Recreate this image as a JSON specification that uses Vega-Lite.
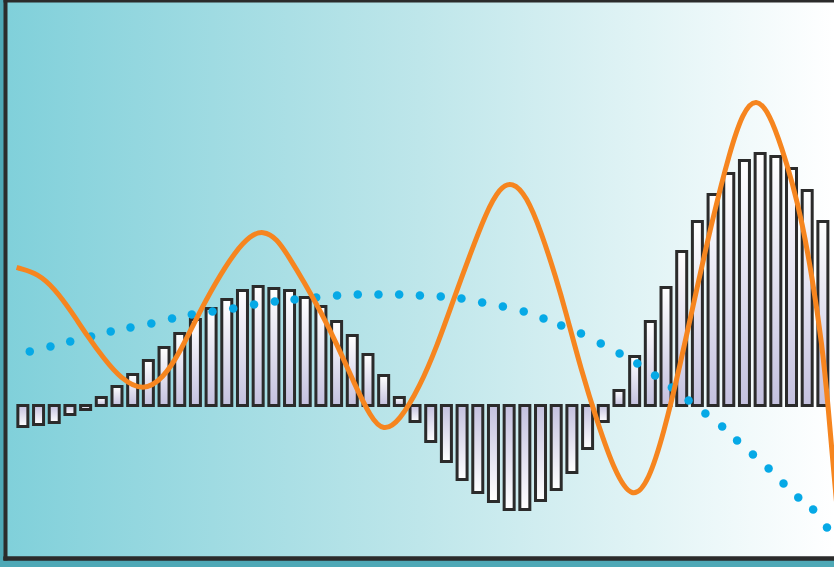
{
  "$schema": "https://vega.github.io/schema/vega-lite/v6.json",
  "width": 829,
  "height": 558,
  "autosize": {"type": "none"},
  "padding": {"left": 5, "top": 0, "right": 0, "bottom": 9},
  "background": "#4ea8b6",
  "config": {
    "view": {
      "stroke": null,
      "fill": {
        "gradient": "linear",
        "x1": 0, "y1": 0, "x2": 1, "y2": 0,
        "stops": [
          {"offset": 0, "color": "#80d0da"},
          {"offset": 0.5, "color": "#bee6ea"},
          {"offset": 1, "color": "#ffffff"}
        ]
      }
    },
    "axis": {
      "domain": true,
      "domainColor": "#2b2b2b",
      "domainWidth": 4,
      "domainCap": "square",
      "ticks": false,
      "labels": false,
      "grid": false
    }
  },
  "datasets": {
    "bars": [
      {"t": 1, "v": -21}, {"t": 2, "v": -19}, {"t": 3, "v": -17}, {"t": 4, "v": -9},
      {"t": 5, "v": -4}, {"t": 6, "v": 8}, {"t": 7, "v": 19}, {"t": 8, "v": 31},
      {"t": 9, "v": 45}, {"t": 10, "v": 58}, {"t": 11, "v": 72}, {"t": 12, "v": 86},
      {"t": 13, "v": 97}, {"t": 14, "v": 106}, {"t": 15, "v": 115}, {"t": 16, "v": 119},
      {"t": 17, "v": 117}, {"t": 18, "v": 115}, {"t": 19, "v": 108}, {"t": 20, "v": 99},
      {"t": 21, "v": 84}, {"t": 22, "v": 70}, {"t": 23, "v": 51}, {"t": 24, "v": 30},
      {"t": 25, "v": 8}, {"t": 26, "v": -16}, {"t": 27, "v": -36}, {"t": 28, "v": -56},
      {"t": 29, "v": -74}, {"t": 30, "v": -87}, {"t": 31, "v": -96}, {"t": 32, "v": -104},
      {"t": 33, "v": -104}, {"t": 34, "v": -95}, {"t": 35, "v": -84}, {"t": 36, "v": -67},
      {"t": 37, "v": -43}, {"t": 38, "v": -16}, {"t": 39, "v": 15}, {"t": 40, "v": 49},
      {"t": 41, "v": 84}, {"t": 42, "v": 118}, {"t": 43, "v": 154}, {"t": 44, "v": 184},
      {"t": 45, "v": 211}, {"t": 46, "v": 232}, {"t": 47, "v": 245}, {"t": 48, "v": 252},
      {"t": 49, "v": 249}, {"t": 50, "v": 237}, {"t": 51, "v": 215}, {"t": 52, "v": 184}
    ],
    "wave": [
      {"t": 0.6, "v": 138}, {"t": 0.81, "v": 137}, {"t": 1.94, "v": 132}, {"t": 3.02, "v": 117}, {"t": 4.09, "v": 94},
      {"t": 5.09, "v": 70}, {"t": 6.16, "v": 47}, {"t": 7.23, "v": 27}, {"t": 8.68, "v": 14},
      {"t": 9.94, "v": 27}, {"t": 11.01, "v": 53}, {"t": 12.02, "v": 86}, {"t": 13.28, "v": 123},
      {"t": 14.54, "v": 154}, {"t": 15.5, "v": 170}, {"t": 16.3, "v": 175}, {"t": 17.2, "v": 167},
      {"t": 17.94, "v": 149}, {"t": 18.95, "v": 123}, {"t": 20.02, "v": 93}, {"t": 21.09, "v": 59}, {"t": 22.1, "v": 23},
      {"t": 23.17, "v": -12}, {"t": 23.98, "v": -26}, {"t": 25.0, "v": -16}, {"t": 26.31, "v": 19},
      {"t": 27.39, "v": 59}, {"t": 28.39, "v": 103}, {"t": 29.46, "v": 149}, {"t": 30.53, "v": 193},
      {"t": 31.4, "v": 218}, {"t": 32.2, "v": 224}, {"t": 33.1, "v": 210}, {"t": 34.06, "v": 173},
      {"t": 35.0, "v": 127}, {"t": 35.57, "v": 96}, {"t": 36.58, "v": 36}, {"t": 37.65, "v": -18},
      {"t": 38.72, "v": -66}, {"t": 39.85, "v": -95}, {"t": 40.9, "v": -76}, {"t": 41.87, "v": -27},
      {"t": 42.88, "v": 39}, {"t": 43.95, "v": 116}, {"t": 45.02, "v": 190}, {"t": 46.03, "v": 252},
      {"t": 46.9, "v": 294}, {"t": 47.75, "v": 308}, {"t": 48.6, "v": 292}, {"t": 49.42, "v": 256},
      {"t": 50.05, "v": 223}, {"t": 50.68, "v": 183}, {"t": 51.31, "v": 129}, {"t": 51.94, "v": 62},
      {"t": 52.32, "v": 3}, {"t": 52.89, "v": -104}, {"t": 53.3, "v": -160}
    ],
    "dots": [
      {"t": 1.44, "v": 54}, {"t": 2.76, "v": 59}, {"t": 4.02, "v": 64}, {"t": 5.35, "v": 69},
      {"t": 6.6, "v": 74}, {"t": 7.86, "v": 78}, {"t": 9.19, "v": 82}, {"t": 10.51, "v": 87},
      {"t": 11.77, "v": 91}, {"t": 13.09, "v": 94}, {"t": 14.41, "v": 97}, {"t": 15.74, "v": 101},
      {"t": 17.06, "v": 104}, {"t": 18.32, "v": 106}, {"t": 19.7, "v": 108}, {"t": 21.03, "v": 110},
      {"t": 22.35, "v": 111}, {"t": 23.67, "v": 111}, {"t": 24.99, "v": 111}, {"t": 26.31, "v": 110},
      {"t": 27.64, "v": 109}, {"t": 28.96, "v": 107}, {"t": 30.28, "v": 103}, {"t": 31.6, "v": 99},
      {"t": 32.93, "v": 94}, {"t": 34.19, "v": 87}, {"t": 35.32, "v": 80}, {"t": 36.58, "v": 72},
      {"t": 37.84, "v": 62}, {"t": 39.04, "v": 52}, {"t": 40.17, "v": 42}, {"t": 41.3, "v": 30},
      {"t": 42.37, "v": 18}, {"t": 43.44, "v": 5}, {"t": 44.51, "v": -8}, {"t": 45.58, "v": -21},
      {"t": 46.53, "v": -35}, {"t": 47.54, "v": -49}, {"t": 48.54, "v": -63}, {"t": 49.49, "v": -78},
      {"t": 50.43, "v": -92}, {"t": 51.38, "v": -104}, {"t": 52.26, "v": -122}
    ]
  },
  "layer": [
    {
      "data": {"name": "bars"},
      "mark": {"type": "bar", "size": 10, "stroke": "#2b2b2b", "strokeWidth": 3},
      "encoding": {
        "x": {"field": "t", "type": "quantitative", "title": null, "scale": {"domain": [0.18, 52.39], "nice": false, "zero": false}, "axis": {"orient": "bottom"}},
        "y": {"field": "v", "type": "quantitative", "title": null, "scale": {"domain": [-152.5, 405.5], "nice": false}, "axis": {"orient": "left"}},
        "fill": {
          "condition": {
            "test": "datum.v < 0",
            "value": {"gradient": "linear", "x1": 0, "y1": 0, "x2": 0, "y2": 1,
              "stops": [{"offset": 0, "color": "#c4c1df"}, {"offset": 1, "color": "#ffffff"}]}
          },
          "value": {"gradient": "linear", "x1": 0, "y1": 0, "x2": 0, "y2": 1,
            "stops": [{"offset": 0, "color": "#ffffff"}, {"offset": 1, "color": "#c4c1df"}]}
        }
      }
    },
    {
      "data": {"name": "dots"},
      "mark": {"type": "circle", "size": 72, "color": "#06a9e6", "opacity": 1},
      "encoding": {
        "x": {"field": "t", "type": "quantitative", "title": null, "axis": {"orient": "bottom"}},
        "y": {"field": "v", "type": "quantitative", "title": null, "axis": {"orient": "left"}}
      }
    },
    {
      "data": {"name": "wave"},
      "mark": {"type": "line", "interpolate": "basis", "color": "#f6851f", "strokeWidth": 5, "clip": true},
      "encoding": {
        "x": {"field": "t", "type": "quantitative", "title": null, "axis": {"orient": "top"}},
        "y": {"field": "v", "type": "quantitative", "title": null, "axis": {"orient": "left"}}
      }
    }
  ],
  "resolve": {"axis": {"x": "independent"}}
}
